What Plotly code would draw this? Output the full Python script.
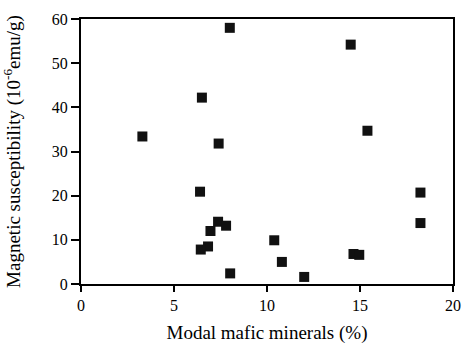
import plotly.graph_objects as go

# Modal mafic mineral content (%) and magnetic susceptibility (10^-6 emu/g)
mafic_pct = [3.3, 6.5, 8.0, 7.4, 14.5, 15.4, 6.4, 7.37, 7.8, 6.96,
             6.83, 6.44, 8.02, 10.39, 10.8, 12.0, 14.65, 14.96, 18.25, 18.25]
susceptibility = [33.4, 42.2, 58.0, 31.8, 54.2, 34.7, 20.9, 14.1, 13.2, 12.0,
                  8.5, 7.8, 2.4, 9.9, 5.0, 1.6, 6.8, 6.6, 20.7, 13.8]

x_ticks = [0, 5, 10, 15, 20]
y_ticks = [0, 10, 20, 30, 40, 50, 60]

font_family = "'Liberation Serif', 'DejaVu Serif', serif"

fig = go.Figure(
    go.Scatter(
        x=mafic_pct,
        y=susceptibility,
        mode="markers",
        marker=dict(symbol="square", size=10, color="#111111", line=dict(width=0)),
        cliponaxis=False,
    )
)

fig.update_layout(
    width=472,
    height=351,
    margin=dict(l=81, r=11, t=15, b=66),
    paper_bgcolor="white",
    plot_bgcolor="white",
    showlegend=False,
    font=dict(family=font_family, size=16, color="black"),
)

fig.update_xaxes(
    range=[0, 20],
    tickvals=x_ticks,
    ticks="outside",
    ticklen=6,
    tickwidth=2,
    tickcolor="black",
    showline=True,
    linewidth=2,
    linecolor="black",
    mirror=True,
    showgrid=False,
    zeroline=False,
    tickfont=dict(family=font_family, size=16),
    title=dict(text="Modal mafic minerals (%)",
               font=dict(family=font_family, size=19), standoff=12),
)

fig.update_yaxes(
    range=[0, 60],
    tickvals=y_ticks,
    ticks="outside",
    ticklen=8,
    tickwidth=2,
    tickcolor="black",
    showline=True,
    linewidth=2,
    linecolor="black",
    mirror=True,
    showgrid=False,
    zeroline=False,
    tickfont=dict(family=font_family, size=16),
    title=dict(text="Magnetic susceptibility (10<sup>-6</sup>emu/g)",
               font=dict(family=font_family, size=19), standoff=26),
)

fig.write_html("out.html")
